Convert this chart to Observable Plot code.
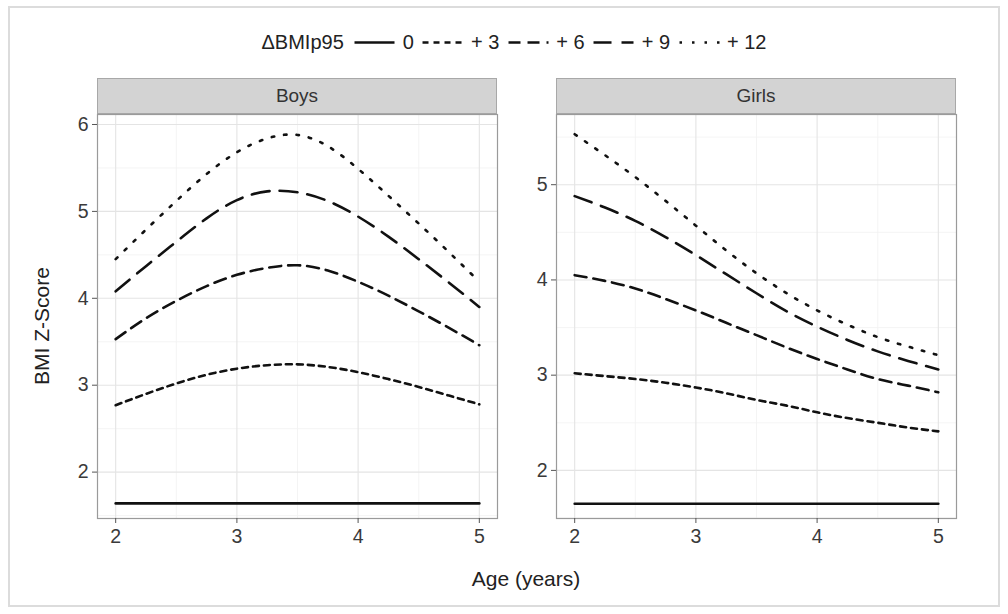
<!DOCTYPE html>
<html>
<head>
<meta charset="utf-8">
<script src="https://cdn.jsdelivr.net/npm/d3@7"></script>
<script src="https://cdn.jsdelivr.net/npm/@observablehq/plot@0.6"></script>
<style>
  html, body { margin: 0; padding: 0; background: #fff; }
  body { width: 1008px; height: 614px; position: relative; overflow: hidden;
         font-family: "Liberation Sans", Arial, Helvetica, sans-serif; }
  .outer { position: absolute; left: 8px; top: 6px; width: 992px; height: 601px;
           border: 2px solid #dcdcdc; box-sizing: border-box; }
  .strip { position: absolute; height: 36px; background: #d3d3d3; border: 1px solid #a8a8a8;
           box-sizing: border-box; text-align: center; line-height: 34px; font-size: 19px; color: #333; }
  .panel { position: absolute; }
  .ytitle { position: absolute; left: 42px; top: 326px; transform: translate(-50%, -50%) rotate(-90deg);
            font-size: 21px; color: #222; white-space: nowrap; }
  .xtitle { position: absolute; left: 526px; top: 579px; transform: translate(-50%, -50%);
            font-size: 21px; color: #222; white-space: nowrap; }
  .legend { position: absolute; left: 518px; top: 42px; transform: translate(-50%, -50%);
            display: flex; align-items: center; font-size: 20px; color: #222; white-space: nowrap; }
  .legend .ttl { margin-right: 10px; }
  .legend .lab { margin: 0 8px 0 7px; }
  .legend svg { display: block; }
</style>
</head>
<body>
<div class="outer"></div>
<div class="legend" id="legend"></div>
<div class="strip" style="left:97px; top:78px; width:400px;">Boys</div>
<div class="strip" style="left:556px; top:78px; width:400px;">Girls</div>
<div class="panel" id="boys" style="left:0px; top:112px;"></div>
<div class="panel" id="girls" style="left:506px; top:112px;"></div>
<div class="ytitle">BMI Z-Score</div>
<div class="xtitle">Age (years)</div>
<script>
// ---- data ----
const ages = [2, 2.25, 2.5, 2.75, 3, 3.25, 3.5, 3.75, 4, 4.25, 4.5, 4.75, 5];
const seriesLabels = ["0", "+ 3", "+ 6", "+ 9", "+ 12"];
const legendTitle = "ΔBMIp95";
const panelLabels = ["Boys", "Girls"];

const boys0  = [1.64, 1.64, 1.64, 1.64, 1.64, 1.64, 1.64, 1.64, 1.64, 1.64, 1.64, 1.64, 1.64];
const boys3  = [2.77, 2.90, 3.02, 3.12, 3.19, 3.23, 3.24, 3.21, 3.15, 3.07, 2.98, 2.88, 2.78];
const boys6  = [3.53, 3.77, 3.97, 4.14, 4.27, 4.35, 4.38, 4.32, 4.19, 4.03, 3.85, 3.66, 3.46];
const boys9  = [4.08, 4.37, 4.65, 4.92, 5.13, 5.23, 5.22, 5.12, 4.94, 4.71, 4.45, 4.18, 3.90];
const boys12 = [4.45, 4.79, 5.12, 5.43, 5.68, 5.84, 5.88, 5.75, 5.49, 5.18, 4.86, 4.53, 4.19];

const girls0  = [1.65, 1.65, 1.65, 1.65, 1.65, 1.65, 1.65, 1.65, 1.65, 1.65, 1.65, 1.65, 1.65];
const girls3  = [3.02, 2.99, 2.96, 2.92, 2.87, 2.81, 2.74, 2.68, 2.61, 2.55, 2.50, 2.45, 2.41];
const girls6  = [4.05, 3.99, 3.91, 3.80, 3.68, 3.55, 3.42, 3.29, 3.17, 3.06, 2.96, 2.89, 2.82];
const girls9  = [4.88, 4.76, 4.62, 4.45, 4.26, 4.06, 3.86, 3.67, 3.51, 3.37, 3.25, 3.15, 3.06];
const girls12 = [5.53, 5.31, 5.08, 4.83, 4.57, 4.31, 4.07, 3.86, 3.68, 3.53, 3.40, 3.30, 3.21];

const xTicks = [2, 3, 4, 5];
const xMinor = [2.5, 3.5, 4.5];
const boysYTicks = [2, 3, 4, 5, 6];
const boysYMinor = [1.5, 2.5, 3.5, 4.5, 5.5];
const girlsYTicks = [2, 3, 4, 5];
const girlsYMinor = [1.5, 2.5, 3.5, 4.5, 5.5];

// ---- styles per series ----
const dashes = [null, "6,5", "12,7", "18,10", "2.5,10"];

function rows(sets) {
  const out = [];
  sets.forEach((vals, si) => vals.forEach((v, i) => out.push({age: ages[i], z: v, s: seriesLabels[si]})));
  return out;
}

function panel(sets, yDomain, yTicks, yMinor, marginLeft, marginRight) {
  const data = rows(sets);
  const fmt = d3.format("d");
  const marks = [
    Plot.gridX(xMinor, {stroke: "#f1f1f1", strokeOpacity: 1, strokeWidth: 0.8}),
    Plot.gridY(yMinor.filter(d => d > yDomain[0] && d < yDomain[1]), {stroke: "#f1f1f1", strokeOpacity: 1, strokeWidth: 0.8}),
    Plot.gridX(xTicks, {stroke: "#e4e4e4", strokeOpacity: 1, strokeWidth: 1.1}),
    Plot.gridY(yTicks, {stroke: "#e4e4e4", strokeOpacity: 1, strokeWidth: 1.1})
  ];
  seriesLabels.forEach((s, si) => {
    marks.push(Plot.line(data.filter(d => d.s === s), {
      x: "age", y: "z", stroke: "#111", strokeWidth: 2.6,
      strokeDasharray: dashes[si] || undefined, curve: "natural"
    }));
  });
  marks.push(Plot.frame({stroke: "#9a9a9a", strokeWidth: 1.2}));
  marks.push(Plot.axisX(xTicks, {tickSize: 5, tickPadding: 6, stroke: "#555", fill: "#3a3a3a", tickFormat: fmt, label: null}));
  marks.push(Plot.axisY(yTicks, {tickSize: 5, tickPadding: 4, stroke: "#555", fill: "#3a3a3a", tickFormat: fmt, label: null}));
  return Plot.plot({
    width: marginLeft + 400 + marginRight,
    height: 2 + 404 + 44,
    marginLeft, marginRight, marginTop: 2, marginBottom: 44,
    x: {domain: [1.85, 5.15]},
    y: {domain: yDomain},
    style: {fontFamily: "'Liberation Sans', Arial, Helvetica, sans-serif", fontSize: "19.5px",
            background: "transparent", overflow: "visible"},
    marks
  });
}

document.getElementById("boys").append(
  panel([boys0, boys3, boys6, boys9, boys12], [1.466, 6.115], boysYTicks, boysYMinor, 97, 8));
document.getElementById("girls").append(
  panel([girls0, girls3, girls6, girls9, girls12], [1.495, 5.737], girlsYTicks, girlsYMinor, 50, 8));

// ---- legend ----
const leg = document.getElementById("legend");
const t = document.createElement("span"); t.className = "ttl"; t.textContent = legendTitle; leg.append(t);
seriesLabels.forEach((s, si) => {
  const ns = "http://www.w3.org/2000/svg";
  const svg = document.createElementNS(ns, "svg");
  svg.setAttribute("width", 42); svg.setAttribute("height", 14);
  const ln = document.createElementNS(ns, "line");
  ln.setAttribute("x1", 1); ln.setAttribute("x2", 41); ln.setAttribute("y1", 7); ln.setAttribute("y2", 7);
  ln.setAttribute("stroke", "#111"); ln.setAttribute("stroke-width", 2.6);
  if (dashes[si]) ln.setAttribute("stroke-dasharray", dashes[si]);
  svg.append(ln); leg.append(svg);
  const l = document.createElement("span"); l.className = "lab"; l.textContent = s; leg.append(l);
});
</script>
</body>
</html>
